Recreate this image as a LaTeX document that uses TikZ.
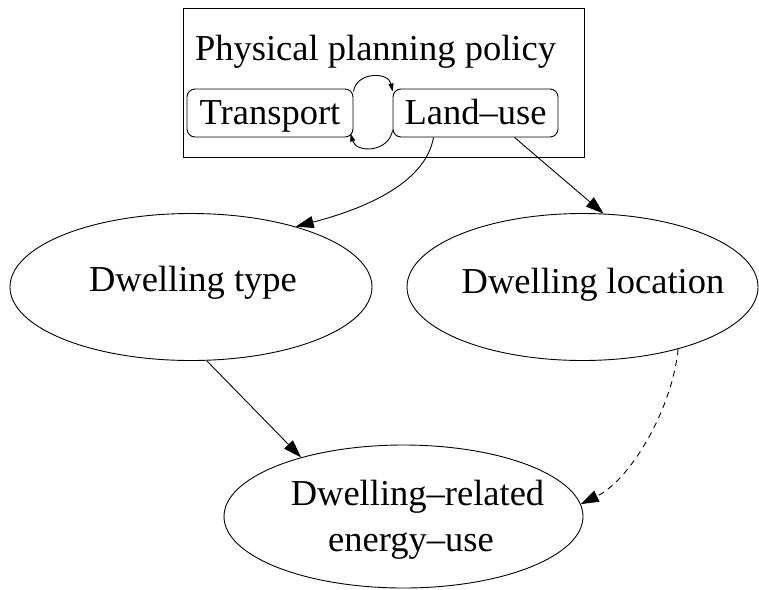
\documentclass[tikz,border=0pt]{standalone}
\usepackage{fontspec}
\setmainfont{Liberation Serif}
\usetikzlibrary{arrows.meta,shapes.geometric}
\begin{document}
\begin{tikzpicture}[x=1pt,y=-1pt,line width=0.9pt,
  bigarrow/.style={-{Triangle[length=18pt,width=12pt]}},
  smallarrow/.style={-{Triangle[length=8pt,width=5pt]}},
  txt/.style={font=\fontsize{36.5}{46}\selectfont,inner sep=0pt,anchor=base},
  rbox/.style={draw,rounded corners=8pt,minimum height=48pt,inner sep=0pt,
    text height=25pt,text depth=3pt,font=\fontsize{36.5}{46}\selectfont},
  ell/.style={draw,ellipse,inner sep=0pt}]
\useasboundingbox (0,0) rectangle (759,589);
% cluster
\node[draw,minimum width=401pt,minimum height=149pt,inner sep=0pt] (cluster) at (383.5,82.5) {};
\node[txt] (title) at (375.5,60.7) {Physical planning policy};
\node[rbox,minimum width=166pt] (tr) at (270,113) {Transport};
\node[rbox,minimum width=165pt] (lu) at (475.5,113) {Land--use};
% ellipses
\node[ell,minimum width=362pt,minimum height=147pt] (dt) at (191,287) {};
\node[txt] (dtl) at (193,291) {Dwelling type};
\node[ell,minimum width=351pt,minimum height=147pt] (dl) at (582.5,287) {};
\node[txt] (dll) at (593,293) {Dwelling location};
\node[ell,minimum width=359pt,minimum height=143pt] (en) at (403.5,516.5) {};
\node[txt] (enl1) at (417.5,505) {Dwelling--related};
\node[txt] (enl2) at (411,551.7) {energy--use};
% loop arrows
\draw[smallarrow] ([yshift=-3pt]tr.north east) .. controls +(3,-20) and +(-4,-20) .. ([yshift=-3pt]lu.north west);
\draw[smallarrow] ([yshift=7pt]lu.south west) .. controls +(-4,22) and +(6,20) .. ([xshift=-3pt,yshift=4pt]tr.south east);
% main arrows
\draw[bigarrow] ([xshift=-42pt]lu.south) .. controls (425,185) and (360,210) .. (dt.30);
\draw[bigarrow] ([xshift=39pt]lu.south) -- (dl.74);
\draw[bigarrow] (dt.-78) -- (en.150);
\draw[bigarrow,dashed,dash pattern=on 6pt off 5pt] (dl.-33) .. controls (672,410) and (630,480) .. (en.4);
\end{tikzpicture}
\end{document}
